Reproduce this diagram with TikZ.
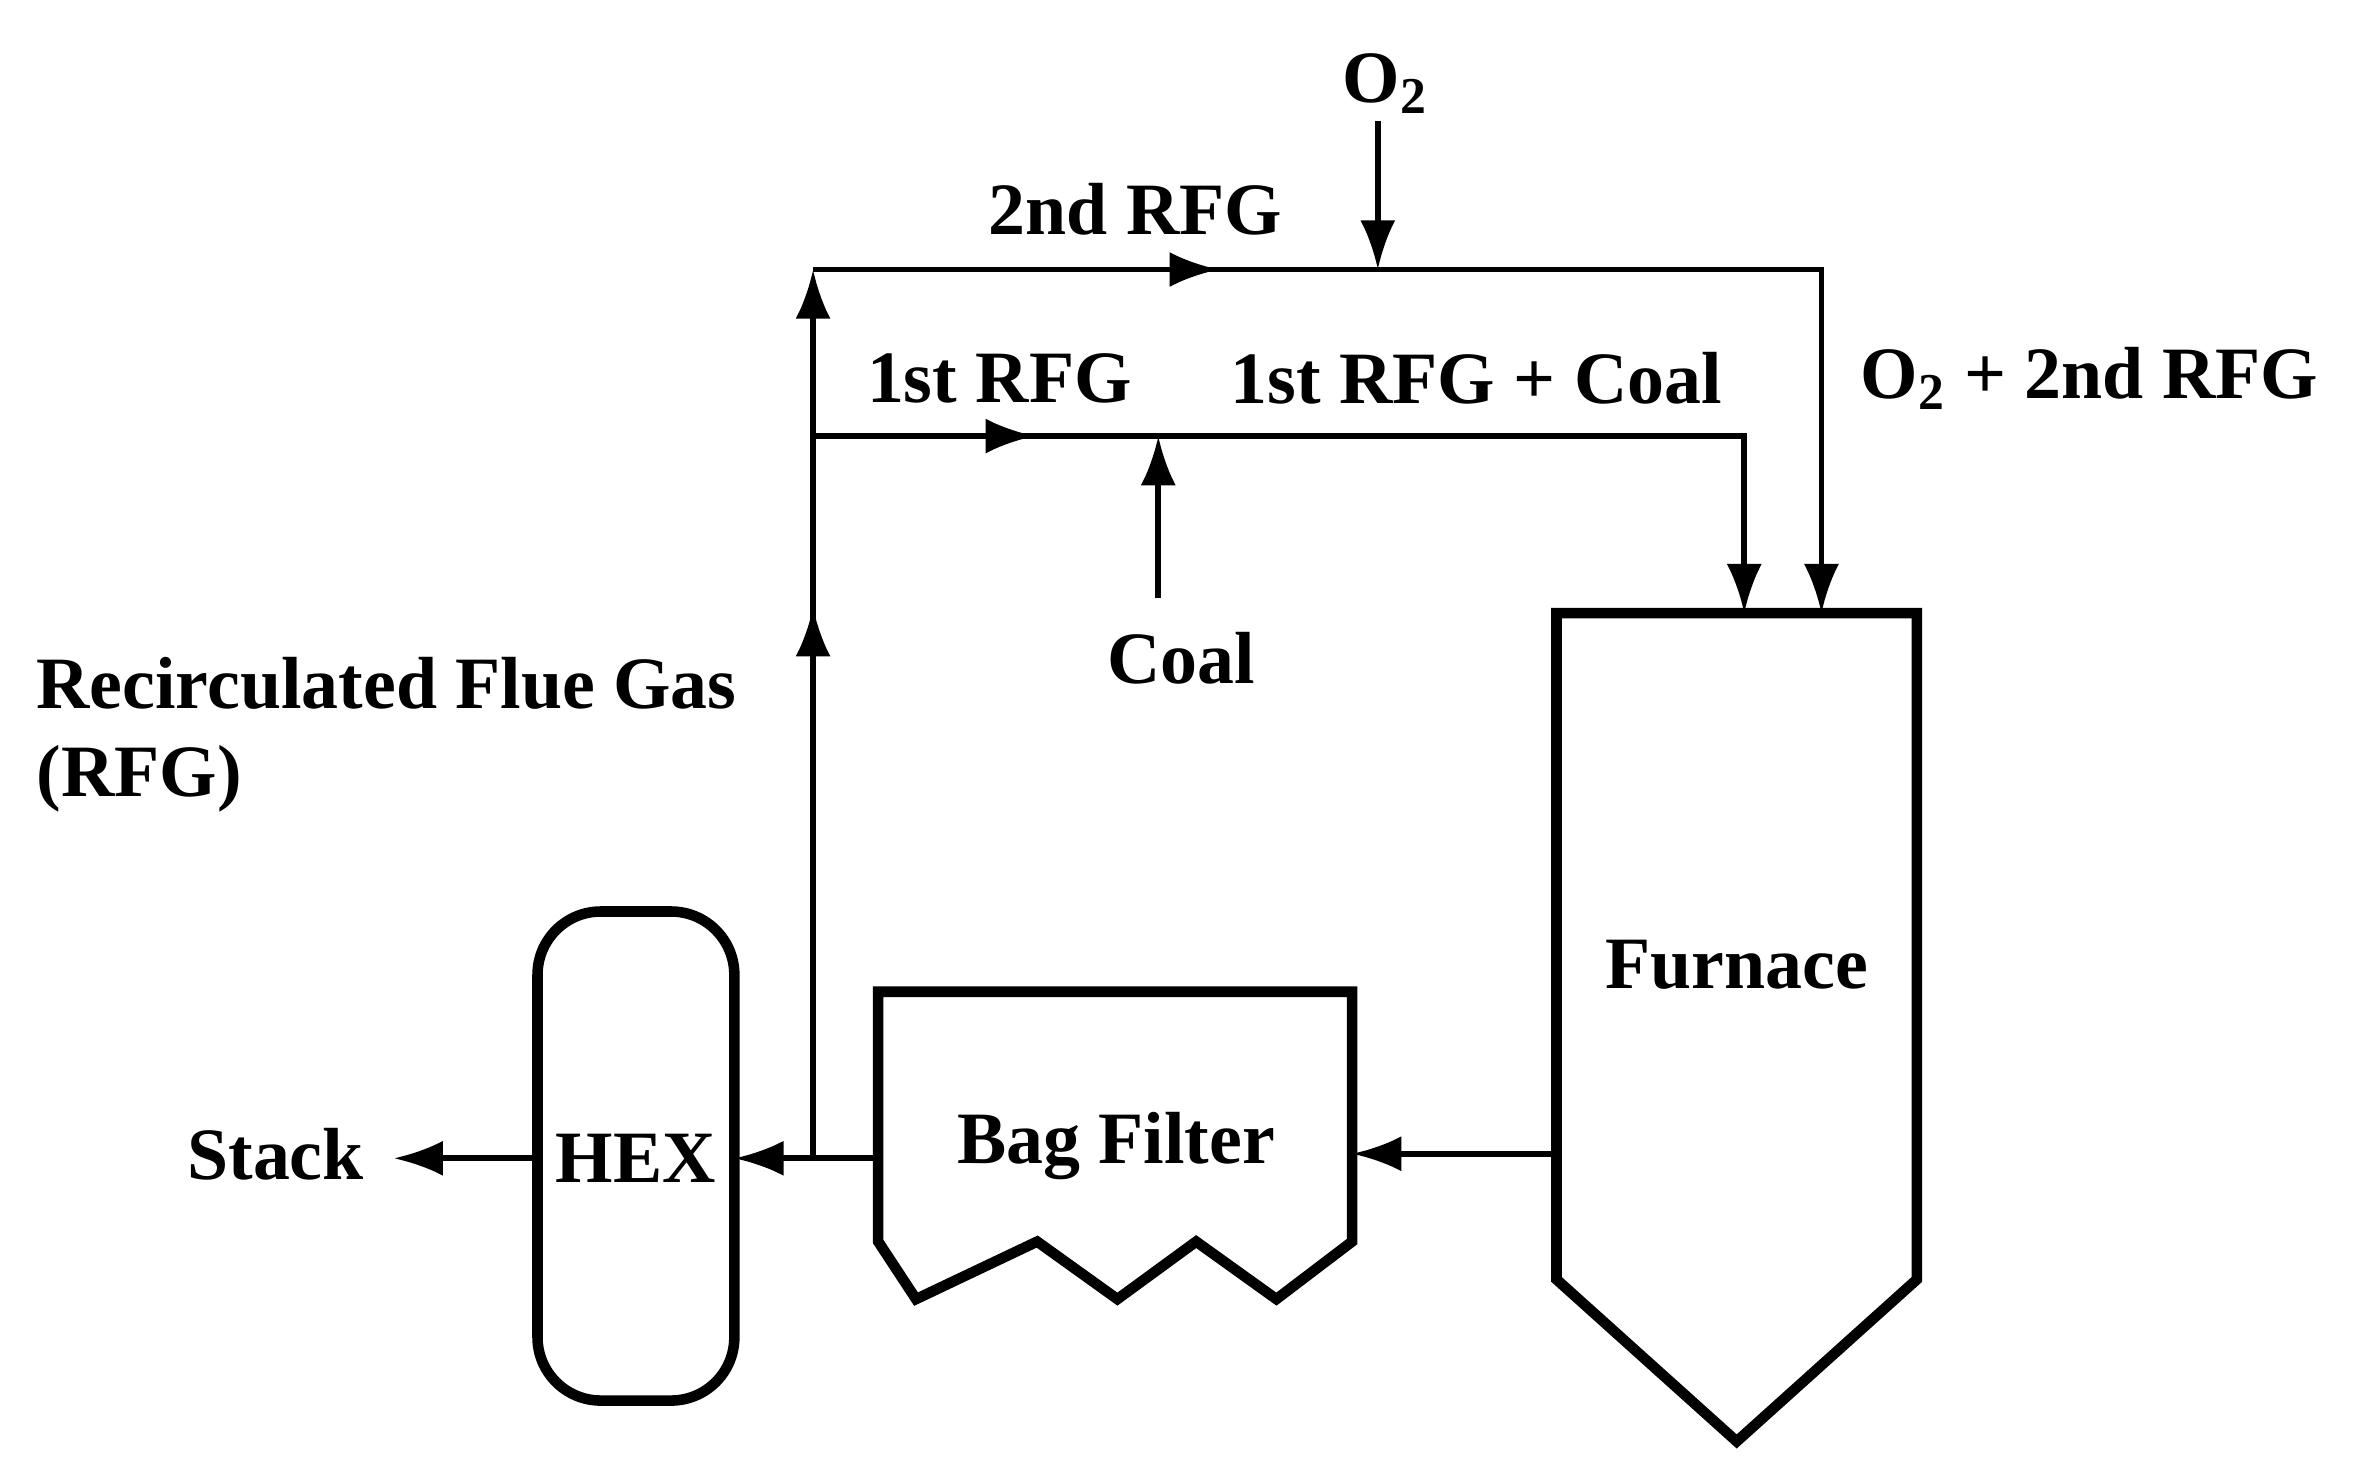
\documentclass[tikz,border=0pt]{standalone}
\usepackage{fontspec}
\setmainfont{Liberation Serif}
\usetikzlibrary{arrows.meta, positioning, calc, decorations.markings}

\begin{document}
\begin{tikzpicture}[x=0.01514cm, y=-0.01514cm,
    line width=1.6pt,
    txt/.style={font=\fontsize{21}{25}\selectfont\bfseries, inner sep=1pt},
    unit/.style={line width=3pt},
    flow/.style={-{Latex[length=14pt,width=10pt]}},
    midarrow/.style={postaction={decorate}, decoration={markings,
        mark=at position #1 with {\arrow{Latex[length=14pt,width=10pt]}}}}]
    \useasboundingbox (0,0) rectangle (1560,968);

    % Furnace
    \draw[unit] (1028,405) -- (1266,405) -- (1266,845) -- (1147,952) -- (1028,845) -- cycle;
    \node[txt] (furnace) at (1147,637) {Furnace};

    % Bag filter
    \draw[unit] (580,820) -- (580,655) -- (893,655) -- (893,820) -- (843,858) -- (790,820)
        -- (738,858) -- (685,820) -- (605,858) -- cycle;
    \node[txt] (bag) at (737,757) {Bag Filter};

    % HEX
    \draw[unit, rounded corners=18pt] (355,602) rectangle (485,925);
    \node[txt] (hex) at (420,765) {HEX};
    \node[txt] (stack) at (182,762) {Stack};

    % Points
    \coordinate (furnOut) at (1028,762);
    \coordinate (bagIn) at (893,762);
    \coordinate (bagOut) at (580,765);
    \coordinate (hexIn) at (485,765);
    \coordinate (hexOut) at (355,765);
    \coordinate (stackIn) at (260,765);
    \coordinate (split) at (537,765);
    \coordinate (top) at (537,178);
    \coordinate (first) at (537,288);
    \coordinate (coalIn) at (765,288);
    \coordinate (coalSrc) at (765,395);
    \coordinate (oxIn) at (910,178);
    \coordinate (oxSrc) at (910,80);
    \coordinate (firstIn) at (1152,405);
    \coordinate (secondIn) at (1203,405);

    % Main flow
    \draw[flow] (furnOut) -- (bagIn);
    \draw[flow] (bagOut) -- (hexIn);
    \draw[flow] (hexOut) -- (stackIn);

    % Recirculation
    \draw[flow, midarrow=0.62] (split) -- (top);
    \draw[flow, midarrow=0.3] (top) -| (secondIn);
    \draw[flow, midarrow=0.2] (first) -| (firstIn);
    \draw[flow] (coalSrc) -- (coalIn);
    \draw[flow] (oxSrc) -- (oxIn);

    % Labels
    \node[txt] (o2) at (915,55) {O$_\mathbf{2}$};
    \node[txt] (rfg2) at (750,138) {2nd RFG};
    \node[txt] (rfg1) at (660,250) {1st RFG};
    \node[txt] (rfgcoal) at (975,250) {1st RFG + Coal};
    \node[txt] (o2rfg) at (1380,250) {O$_\mathbf{2}$ + 2nd RFG};
    \node[txt] (coal) at (780,435) {Coal};
    \node[txt, align=left, anchor=north west] (rfg) at (20,430) {Recirculated Flue Gas\\(RFG)};
\end{tikzpicture}
\end{document}
